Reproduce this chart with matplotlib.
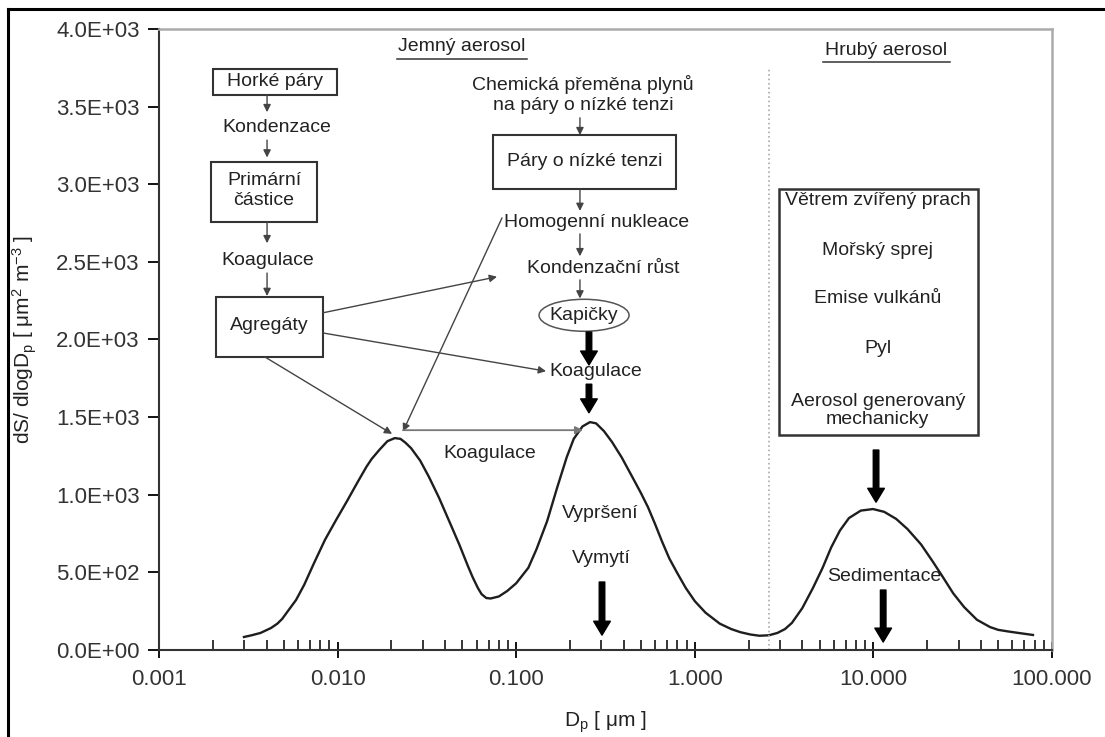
import matplotlib
matplotlib.use('Agg')
import matplotlib.pyplot as plt
from matplotlib.patches import Rectangle, Ellipse
from matplotlib.lines import Line2D
from matplotlib.ticker import FixedLocator, FormatStrFormatter, LogLocator, NullFormatter

# surface distribution dS/dlogDp, read point by point
dp = [0.00299, 0.0033, 0.0037, 0.00424, 0.0046, 0.00489, 0.0053, 0.00585, 0.0065, 0.00738,
      0.0085, 0.0098, 0.0113, 0.01285, 0.0145, 0.0155, 0.0171, 0.019, 0.0209, 0.0225,
      0.024, 0.0258, 0.029, 0.0325, 0.037, 0.0426, 0.048, 0.0537, 0.057, 0.061,
      0.064, 0.068, 0.072, 0.080, 0.089, 0.10, 0.117, 0.13, 0.149, 0.17,
      0.192, 0.21, 0.235, 0.259, 0.28, 0.31, 0.344, 0.39, 0.454, 0.50,
      0.547, 0.60, 0.655, 0.72, 0.794, 0.89, 1.0, 1.15, 1.38, 1.6,
      1.8, 2.05, 2.3, 2.6, 2.9, 3.2, 3.5, 4.0, 4.59, 5.2,
      5.8, 6.5, 7.3, 8.5, 9.96, 11.5, 13.4, 15.5, 18.5, 21.5,
      24.5, 28.0, 32.2, 38.0, 45.0, 50.0, 56.6, 65.0, 78.3]
ds = [84, 95, 110, 142, 170, 200, 255, 322, 420, 560,
      710, 837, 960, 1075, 1180, 1230, 1288, 1345, 1365, 1360,
      1335, 1300, 1220, 1114, 980, 818, 680, 540, 470, 400,
      360, 335, 332, 345, 380, 430, 530, 650, 830, 1050,
      1243, 1360, 1440, 1468, 1460, 1410, 1340, 1240, 1100, 1010,
      920, 810, 700, 590, 500, 400, 315, 240, 170, 135,
      115, 100, 92, 95, 110, 135, 175, 270, 400, 530,
      660, 770, 850, 898, 908, 890, 845, 780, 680, 570,
      470, 365, 277, 195, 148, 130, 120, 110, 97]

xticks = [0.001, 0.01, 0.1, 1, 10, 100]
yticks = [0, 500, 1000, 1500, 2000, 2500, 3000, 3500, 4000]

plt.rcParams['font.family'] = ['Liberation Sans', 'DejaVu Sans']
plt.rcParams['mathtext.default'] = 'regular'

txt = '#222222'
ln = '#444444'

fig = plt.figure(figsize=(11.05, 7.37), dpi=100)
ax = fig.add_axes([0.1439, 0.118, 0.8081, 0.8427])

ax.plot(dp, ds, color='#1e1e1e', linewidth=1.7, solid_joinstyle='round')

ax.set_xscale('log')
ax.set_xlim(0.001, 100)
ax.set_ylim(0, 4000)
ax.xaxis.set_major_locator(FixedLocator(xticks))
ax.xaxis.set_major_formatter(FormatStrFormatter('%.3f'))
ax.xaxis.set_minor_locator(LogLocator(base=10, subs=range(2, 10)))
ax.xaxis.set_minor_formatter(NullFormatter())
ax.yaxis.set_major_locator(FixedLocator(yticks))
ax.yaxis.set_major_formatter(FormatStrFormatter('%.1E'))

ax.tick_params(axis='x', which='major', direction='inout', length=12, width=1.3, pad=8,
               labelsize=16, labelcolor='#333333')
ax.tick_params(axis='x', which='minor', direction='in', length=7, width=1.1)
ax.tick_params(axis='y', which='major', direction='out', length=8, width=1.3, pad=6,
               labelsize=16, labelcolor='#333333')

for s in ['left', 'bottom']:
    ax.spines[s].set_color('#333333')
    ax.spines[s].set_linewidth(1.5)
for s in ['top', 'right']:
    ax.spines[s].set_color('#aaaaaa')
    ax.spines[s].set_linewidth(1.8)

ax.set_xlabel(r'D$_p$ [ μm ]', fontsize=15, color=txt, labelpad=14)
ax.set_ylabel(r'dS/ dlogD$_p$ [ μm$^2$ m$^{-3}$ ]', fontsize=15, color=txt, labelpad=12)

# fine / coarse boundary
ax.plot([0.683, 0.683], [0, 0.937], transform=ax.transAxes, color='#aaaaaa',
        linestyle=':', linewidth=1.2)

T = ax.transAxes


def label(x, y, s, size=14, **kw):
    ax.text(x, y, s, transform=T, ha='center', va='center', fontsize=size, color=txt, **kw)


def box(x0, y0, x1, y1, lw=1.5):
    ax.add_patch(Rectangle((x0, y0), x1 - x0, y1 - y0, transform=T, fill=False,
                           edgecolor='#333333', linewidth=lw))


def arrow(x0, y0, x1, y1, color=ln, lw=1.0):
    ax.annotate('', xy=(x1, y1), xytext=(x0, y0), xycoords='axes fraction',
                arrowprops=dict(arrowstyle='-|>', color=color, lw=lw, mutation_scale=11,
                                shrinkA=0, shrinkB=0))


def fat_arrow(x, y0, y1):
    ax.annotate('', xy=(x, y1), xytext=(x, y0), xycoords='axes fraction',
                arrowprops=dict(width=4, headwidth=12, headlength=10, facecolor='black',
                                edgecolor='black', shrink=0))


# section headers
label(0.339, 0.971, 'Jemný aerosol')
ax.plot([0.2665, 0.4121], [0.952, 0.952], transform=T, color='#333333', linewidth=1.1)
label(0.814, 0.9646, 'Hrubý aerosol')
ax.plot([0.7436, 0.8858], [0.947, 0.947], transform=T, color='#333333', linewidth=1.1)

# left chain
box(0.0605, 0.8937, 0.1993, 0.9356)
label(0.130, 0.915, 'Horké páry')
arrow(0.121, 0.894, 0.121, 0.866)
label(0.132, 0.841, 'Kondenzace')
arrow(0.121, 0.821, 0.121, 0.793)
box(0.0582, 0.6892, 0.1769, 0.7858)
label(0.1176, 0.740, 'Primární\nčástice', linespacing=1.25)
arrow(0.121, 0.689, 0.121, 0.655)
label(0.122, 0.628, 'Koagulace')
arrow(0.121, 0.607, 0.121, 0.570)
box(0.0638, 0.4718, 0.1837, 0.5684)
label(0.123, 0.523, 'Agregáty')

# middle chain
label(0.4748, 0.894, 'Chemická přeměna plynů\nna páry o nízké tenzi', linespacing=1.25)
arrow(0.4714, 0.857, 0.4714, 0.829)
box(0.374, 0.742, 0.579, 0.829)
label(0.477, 0.786, 'Páry o nízké tenzi')
arrow(0.4714, 0.742, 0.4714, 0.707)
label(0.4905, 0.689, 'Homogenní nukleace')
arrow(0.4714, 0.670, 0.4714, 0.634)
label(0.497, 0.615, 'Kondenzační růst')
arrow(0.4714, 0.596, 0.4714, 0.566)
ax.add_patch(Ellipse((0.476, 0.539), 0.1008, 0.0515, transform=T, fill=False,
                     edgecolor='#555555', linewidth=1.1))
label(0.476, 0.539, 'Kapičky')
fat_arrow(0.4815, 0.512, 0.459)
label(0.489, 0.449, 'Koagulace')
fat_arrow(0.4815, 0.428, 0.382)

# cross links
arrow(0.1837, 0.543, 0.3785, 0.601)
arrow(0.1837, 0.5105, 0.4334, 0.449)
arrow(0.1187, 0.4718, 0.261, 0.348)
arrow(0.3841, 0.6957, 0.2732, 0.352)
arrow(0.2732, 0.354, 0.4748, 0.354, color='#777777', lw=1.3)
label(0.3707, 0.317, 'Koagulace')

# removal
label(0.4938, 0.2206, 'Vypršení')
label(0.495, 0.148, 'Vymytí')
fat_arrow(0.4961, 0.1095, 0.024)

# coarse sources
box(0.6943, 0.3462, 0.9171, 0.7424, lw=1.8)
label(0.805, 0.7246, 'Větrem zvířený prach')
label(0.805, 0.644, 'Mořský sprej')
label(0.805, 0.5668, 'Emise vulkánů')
label(0.805, 0.4863, 'Pyl')
label(0.805, 0.386, 'Aerosol generovaný\nmechanicky', linespacing=1.1)
fat_arrow(0.803, 0.322, 0.238)
label(0.812, 0.1176, 'Sedimentace')
fat_arrow(0.811, 0.0966, 0.0129)

# page frame
fig.add_artist(Line2D([0.0072, 0.0072], [-0.01, 0.9878], transform=fig.transFigure,
                      color='black', linewidth=2.2))
fig.add_artist(Line2D([0.0072, 1.01], [0.9878, 0.9878], transform=fig.transFigure,
                      color='black', linewidth=2.2))

fig.savefig('out.png', dpi=100)
